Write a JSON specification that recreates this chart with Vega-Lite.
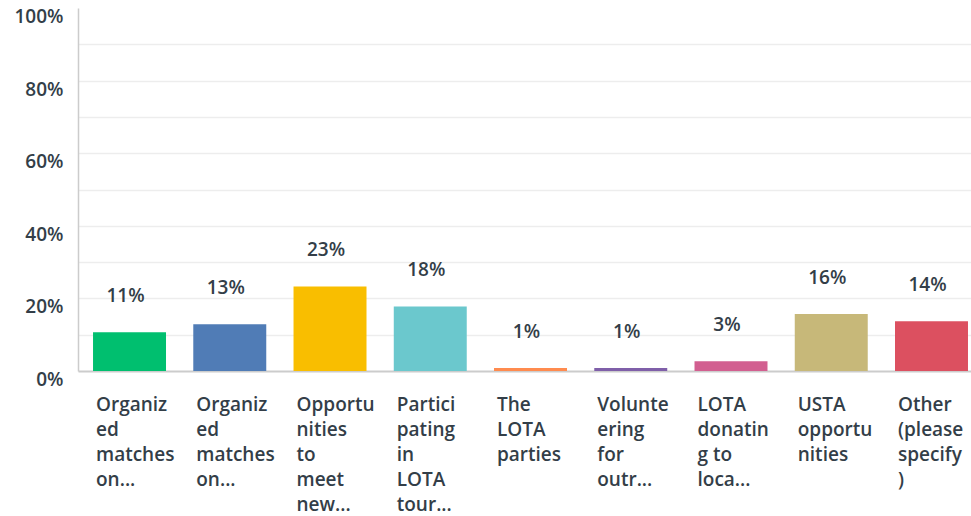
{
  "$schema": "https://vega.github.io/schema/vega-lite/v6.json",
  "width": 893,
  "height": 363,
  "autosize": "none",
  "padding": {"left": 78, "top": 8, "right": 0, "bottom": 145},
  "background": "white",
  "config": {"view": {"stroke": null}, "font": "Open Sans"},
  "data": {
    "values": [
      {"cat": "1|Organiz|ed|matches|on...", "value": 0.107},
      {"cat": "2|Organiz|ed|matches|on...", "value": 0.129},
      {"cat": "3|Opportu|nities|to|meet|new...", "value": 0.233},
      {"cat": "4|Partici|pating|in|LOTA|tour...", "value": 0.178},
      {"cat": "5|The|LOTA|parties", "value": 0.008},
      {"cat": "6|Volunte|ering|for|outr...", "value": 0.008},
      {"cat": "7|LOTA|donatin|g to|loca...", "value": 0.027},
      {"cat": "8|USTA|opportu|nities", "value": 0.157},
      {"cat": "9|Other|(please|specify|)", "value": 0.137}
    ]
  },
  "encoding": {
    "x": {
      "field": "cat",
      "type": "nominal",
      "sort": null,
      "scale": {"paddingInner": 0.272, "paddingOuter": 0.09, "align": 0.833},
      "axis": {
        "title": null,
        "labelExpr": "slice(split(datum.label, '|'), 1)",
        "labelAngle": 0,
        "labelAlign": "left",
        "labelBaseline": "alphabetic",
        "labelOffset": -33.5,
        "labelPadding": 39,
        "labelLineHeight": 25,
        "labelFontSize": 19,
        "labelFontWeight": 600,
        "labelColor": "#333e48",
        "labelFont": "Open Sans",
        "ticks": false,
        "tickSize": 0,
        "domainColor": "#cccccc",
        "domainWidth": 2,
        "grid": false,
        "labelLimit": 200
      }
    },
    "y": {
      "field": "value",
      "type": "quantitative",
      "scale": {"domain": [0, 1], "nice": false},
      "axis": {
        "title": null,
        "values": [0, 0.1, 0.2, 0.3, 0.4, 0.5, 0.6, 0.7, 0.8, 0.9, 1],
        "labelExpr": "round(datum.value * 10) % 2 == 0 ? format(datum.value, '.0%') : ''",
        "labelFontSize": 19,
        "labelFontWeight": 600,
        "labelColor": "#333e48",
        "labelFont": "Open Sans",
        "labelPadding": 15,
        "labelOffset": 8.5,
        "ticks": false,
        "tickSize": 0,
        "domainColor": "#cccccc",
        "domainWidth": 1.5,
        "grid": true,
        "gridColor": "#ededed",
        "gridWidth": 1.5,
        "gridOpacity": {"condition": {"test": "datum.value > 0.99 || datum.value < 0.01", "value": 0}, "value": 1}
      }
    }
  },
  "layer": [
    {
      "mark": {"type": "bar"},
      "encoding": {
        "color": {
          "field": "cat",
          "type": "nominal",
          "sort": null,
          "legend": null,
          "scale": {"range": ["#00bf6f", "#507cb6", "#f9be00", "#6bc8cd", "#ff8b4f", "#7f5fa9", "#d25f90", "#c7b879", "#dc5060"]}
        }
      }
    },
    {
      "mark": {"type": "text", "dx": -4, "dy": -30, "baseline": "alphabetic", "fontSize": 19, "fontWeight": 600, "color": "#333e48", "font": "Open Sans"},
      "encoding": {
        "text": {"field": "value", "type": "quantitative", "format": ".0%"}
      }
    }
  ]
}
